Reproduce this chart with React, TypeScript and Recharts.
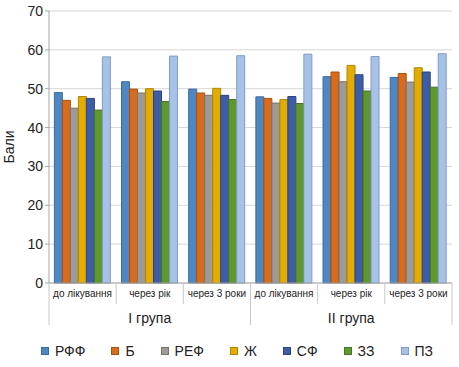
import React from 'react';
import { BarChart, Bar, XAxis, YAxis, CartesianGrid, Legend } from 'recharts';

const categories = ['до лікування', 'через рік', 'через 3 роки', 'до лікування', 'через рік', 'через 3 роки'];
const groups = ['I група', 'I група', 'I група', 'II група', 'II група', 'II група'];

const rff = [49, 51.8, 49.9, 47.9, 53.1, 52.9];
const b = [47, 49.9, 48.9, 47.5, 54.3, 53.9];
const refData = [45, 48.9, 48.3, 46.3, 51.8, 51.7];
const zh = [48, 50, 50.1, 47.2, 56, 55.4];
const sf = [47.5, 49.4, 48.3, 48, 53.6, 54.3];
const zz = [44.5, 46.7, 47.2, 46.2, 49.4, 50.4];
const pz = [58.2, 58.4, 58.5, 58.9, 58.3, 59.0];

const yTicks = [0, 10, 20, 30, 40, 50, 60, 70];

const series = [
  { key: 's_rff', name: 'РФФ', values: rff, fill: '#4F87C2', stroke: '#3A6A9C' },
  { key: 's_b', name: 'Б', values: b, fill: '#D86B1C', stroke: '#A8520F' },
  { key: 's_ref', name: 'РЕФ', values: refData, fill: '#9D9A98', stroke: '#77736F' },
  { key: 's_zh', name: 'Ж', values: zh, fill: '#E2AC00', stroke: '#B08600' },
  { key: 's_sf', name: 'СФ', values: sf, fill: '#3E5DA8', stroke: '#2C4380' },
  { key: 's_zz', name: 'ЗЗ', values: zz, fill: '#5F982F', stroke: '#467222' },
  { key: 's_pz', name: 'ПЗ', values: pz, fill: '#A7C2E7', stroke: '#7F9CC4' },
];

const data = categories.map((c, i) => {
  const row: any = { id: i, cat: c, group: groups[i] };
  series.forEach((s) => (row[s.key] = s.values[i]));
  return row;
});

const W = 459;
const H = 367;
const margin = { top: 11, right: 7, left: 0, bottom: 4 };
const yAxisWidth = 49;
const band = (W - margin.left - margin.right - yAxisWidth) / categories.length;
const font = '"Liberation Sans", Arial, sans-serif';
const sepColor = '#C8C8C8';

const CategoryTick = (props: any) => {
  const { x, y, index } = props;
  const left = x - band / 2;
  const right = x + band / 2;
  const groupStart = index === 0 || groups[index] !== groups[index - 1];
  const last = index === categories.length - 1;
  const groupMid = groups[index - 1] === groups[index] && groups[index + 1] === groups[index];
  return (
    <g>
      <line x1={left} x2={left} y1={y} y2={y + (groupStart ? 42 : 21)} stroke={sepColor} />
      {last && <line x1={right} x2={right} y1={y} y2={y + 42} stroke={sepColor} />}
      <text x={x} y={y + 14} textAnchor="middle" fontSize={10} fill="#222" fontFamily={font}>
        {categories[index]}
      </text>
      {groupMid && (
        <text x={x} y={y + 40} textAnchor="middle" fontSize={14} fill="#222" fontFamily={font}>
          {groups[index]}
        </text>
      )}
    </g>
  );
};

const LegendContent = () => (
  <div
    style={{
      display: 'flex',
      justifyContent: 'center',
      gap: 26,
      height: 36,
      paddingTop: 11,
      paddingLeft: 22,
      boxSizing: 'border-box',
      fontFamily: font,
      fontSize: 14,
      color: '#222',
      lineHeight: '20px',
    }}
  >
    {series.map((s) => (
      <div key={s.key} style={{ display: 'flex', alignItems: 'center' }}>
        <span
          style={{
            display: 'inline-block',
            width: 6,
            height: 6,
            background: s.fill,
            border: `1px solid ${s.stroke}`,
            marginRight: 6,
          }}
        />
        <span>{s.name}</span>
      </div>
    ))}
  </div>
);

export default function App() {
  return (
    <div style={{ position: 'absolute', left: 0, top: 0, background: '#fff' }}>
      <BarChart width={W} height={H} data={data} margin={margin} barCategoryGap="8%" barGap={0}>
        <CartesianGrid vertical={false} stroke="#D6D6D6" />
        <XAxis
          dataKey="id"
          height={44}
          interval={0}
          tickSize={0}
          tickMargin={0}
          tickLine={false}
          axisLine={{ stroke: '#A6A6A6' }}
          tick={<CategoryTick />}
        />
        <YAxis
          domain={[0, 70]}
          ticks={yTicks}
          width={yAxisWidth}
          tickSize={4}
          axisLine={{ stroke: '#A6A6A6' }}
          tickLine={{ stroke: '#A6A6A6' }}
          tick={{ fill: '#222', fontSize: 14, fontFamily: font }}
          label={{
            value: 'Бали',
            angle: -90,
            position: 'insideLeft',
            offset: 9,
            style: { fill: '#222', fontSize: 14, fontFamily: font, textAnchor: 'middle' },
          }}
        />
        <YAxis
          yAxisId="right"
          orientation="right"
          domain={[0, 70]}
          width={0}
          tick={false}
          tickLine={false}
          axisLine={{ stroke: '#D6D6D6' }}
        />
        <Legend verticalAlign="bottom" content={<LegendContent />} />
        {series.map((s) => (
          <Bar
            key={s.key}
            dataKey={s.key}
            name={s.name}
            fill={s.fill}
            stroke={s.stroke}
            strokeWidth={1}
            isAnimationActive={false}
          />
        ))}
      </BarChart>
    </div>
  );
}
